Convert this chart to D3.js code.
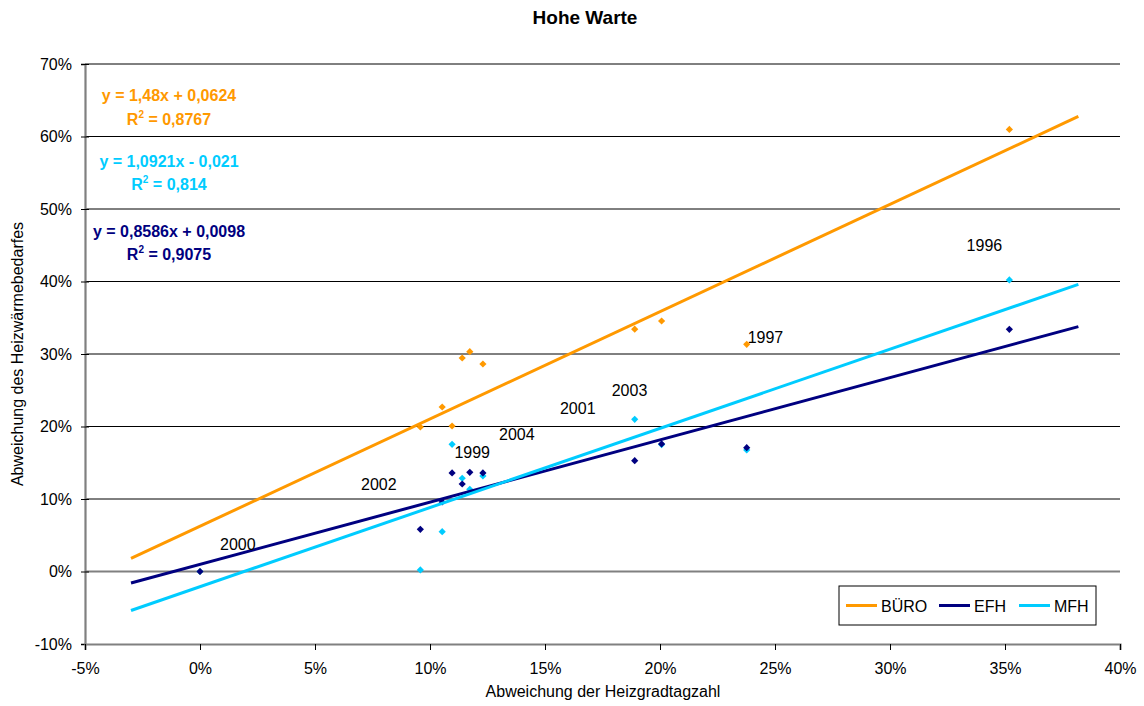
<!DOCTYPE html>
<html>
<head>
<meta charset="utf-8">
<script src="https://cdn.jsdelivr.net/npm/d3@7"></script>
<style>
  html, body { margin: 0; padding: 0; background: #fff; }
  svg { display: block; font-family: Arial, "Liberation Sans", sans-serif; }
</style>
</head>
<body>
<svg id="chart" width="1144" height="706"></svg>
<script>
// Abweichung der Heizgradtagzahl (shared x values for all building types)
const hgtAbweichung = [0, 0.0958, 0.1053, 0.1096, 0.1140, 0.1173, 0.1230, 0.1890, 0.2007, 0.2377, 0.3519];

// Abweichung des Heizwärmebedarfes per building type
const bueroValues = [0, 0.1993, 0.2269, 0.2007, 0.2945, 0.3032, 0.2862, 0.3343, 0.3455, 0.3134, 0.6097];
const efhValues   = [0, 0.0582, 0.0959, 0.1359, 0.1207, 0.1368, 0.1359, 0.1528, 0.1759, 0.1708, 0.3341];
const mfhValues   = [0, 0.0021, 0.0549, 0.1754, 0.1286, 0.1134, 0.1317, 0.2099, 0.1750, 0.1676, 0.4021];

// Linear trend coefficients (slope, intercept) and R²
const seriesNames  = ["BÜRO", "EFH", "MFH"];
const trendSlopes  = [1.48, 0.8586, 1.0921];
const trendOffsets = [0.0624, 0.0098, -0.021];
const trendR2      = ["0,8767", "0,9075", "0,814"];
const trendEquations = ["y = 1,48x + 0,0624", "y = 0,8586x + 0,0098", "y = 1,0921x - 0,021"];

// Year annotations and their anchor in data units (left edge, baseline)
const yearLabels = ["1996", "1997", "1999", "2000", "2001", "2002", "2003", "2004"];
const yearLabelAnchors = [
  [0.3333, 0.4423], [0.2381, 0.3158], [0.1106, 0.1566], [0.0087, 0.0297],
  [0.1565, 0.2174], [0.0700, 0.1125], [0.1790, 0.2426], [0.1300, 0.1815]
];

const xTicks = [-0.05, 0, 0.05, 0.10, 0.15, 0.20, 0.25, 0.30, 0.35, 0.40];
const yTicks = [-0.10, 0, 0.10, 0.20, 0.30, 0.40, 0.50, 0.60, 0.70];

const colors = { "BÜRO": "#FF9900", "EFH": "#000080", "MFH": "#00CCFF" };

const svg = d3.select("#chart");
const plot = { left: 85, right: 1120, top: 64, bottom: 644 };

const x = d3.scaleLinear().domain([-0.05, 0.40]).range([plot.left, plot.right]);
const y = d3.scaleLinear().domain([-0.10, 0.70]).range([plot.bottom, plot.top]);
const pct = d => Math.round(d * 100) + "%";

// Title
svg.append("text")
  .attr("x", 585).attr("y", 24)
  .attr("text-anchor", "middle")
  .attr("font-size", 19).attr("font-weight", "bold")
  .text("Hohe Warte");

// Horizontal gridlines
svg.append("g")
  .selectAll("line")
  .data(yTicks.filter(t => t > -0.10))
  .join("line")
  .attr("x1", plot.left).attr("x2", plot.right)
  .attr("y1", d => y(d)).attr("y2", d => y(d))
  .attr("stroke", d => d === 0 ? "#808080" : "#000")
  .attr("stroke-width", d => d === 0 ? 2 : 1);

// Y axis
const yAxis = svg.append("g")
  .attr("transform", `translate(${plot.left},0)`)
  .call(d3.axisLeft(y).tickValues(yTicks).tickFormat(pct).tickSize(4).tickPadding(9));
yAxis.select(".domain").attr("stroke", "#808080").attr("stroke-width", 2.2);
yAxis.selectAll(".tick line").clone().attr("x2", 4);
yAxis.selectAll(".tick line").attr("stroke", "#000");
yAxis.selectAll(".tick text").attr("font-size", 16).attr("fill", "#000")
  .attr("font-family", "Arial, 'Liberation Sans', sans-serif");

// X axis
const xAxis = svg.append("g")
  .attr("transform", `translate(0,${plot.bottom})`)
  .call(d3.axisBottom(x).tickValues(xTicks).tickFormat(pct).tickSize(6).tickPadding(13));
xAxis.select(".domain").attr("stroke", "#808080").attr("stroke-width", 2.2);
xAxis.selectAll(".tick line").attr("stroke", "#000");
xAxis.selectAll(".tick text").attr("font-size", 16).attr("fill", "#000")
  .attr("font-family", "Arial, 'Liberation Sans', sans-serif");

// Axis titles
svg.append("text")
  .attr("x", 603).attr("y", 697)
  .attr("text-anchor", "middle").attr("font-size", 16)
  .text("Abweichung der Heizgradtagzahl");
svg.append("text")
  .attr("transform", "translate(23,354) rotate(-90)")
  .attr("text-anchor", "middle").attr("font-size", 16)
  .text("Abweichung des Heizwärmebedarfes");

// Markers: rotated squares (diamonds)
const seriesData = {
  "BÜRO": bueroValues.map((v, i) => [hgtAbweichung[i], v]),
  "EFH":  efhValues.map((v, i) => [hgtAbweichung[i], v]),
  "MFH":  mfhValues.map((v, i) => [hgtAbweichung[i], v])
};
const diamond = d3.symbol().type(d3.symbolSquare).size(26);
["BÜRO", "MFH", "EFH"].forEach(name => {
  svg.append("g")
    .selectAll("path")
    .data(seriesData[name])
    .join("path")
    .attr("d", diamond)
    .attr("transform", d => `translate(${x(d[0])},${y(d[1])}) rotate(45)`)
    .attr("fill", colors[name]);
});

// Trend lines, extended 3 percentage points beyond the data range
const xMin = d3.min(hgtAbweichung) - 0.03;
const xMax = d3.max(hgtAbweichung) + 0.03;
seriesNames.forEach((name, i) => {
  const f = v => trendSlopes[i] * v + trendOffsets[i];
  svg.append("line")
    .attr("x1", x(xMin)).attr("y1", y(f(xMin)))
    .attr("x2", x(xMax)).attr("y2", y(f(xMax)))
    .attr("stroke", colors[name])
    .attr("stroke-width", 3);
});

// Trend equations and R²
const eqLayout = { "BÜRO": [101, 125], "MFH": [166.5, 190], "EFH": [236.5, 260] };
seriesNames.forEach((name, i) => {
  const [y1, y2] = eqLayout[name];
  const g = svg.append("g").attr("fill", colors[name])
    .attr("font-size", 16).attr("font-weight", "bold")
    .attr("text-anchor", "middle");
  g.append("text").attr("x", 169).attr("y", y1).text(trendEquations[i]);
  const r = g.append("text").attr("x", 169).attr("y", y2);
  r.append("tspan").text("R");
  r.append("tspan").attr("font-size", 10).attr("dy", -7).text("2");
  r.append("tspan").attr("dy", 7).text(" = " + trendR2[i]);
});

// Year annotations
svg.append("g")
  .selectAll("text")
  .data(yearLabels)
  .join("text")
  .attr("x", (d, i) => x(yearLabelAnchors[i][0]))
  .attr("y", (d, i) => y(yearLabelAnchors[i][1]))
  .attr("font-size", 16)
  .text(d => d);

// Legend
const legend = svg.append("g").attr("transform", "translate(839,586)");
legend.append("rect")
  .attr("width", 257).attr("height", 39)
  .attr("fill", "#fff").attr("stroke", "#000").attr("stroke-width", 1);
const legendX = [7, 100, 180];
seriesNames.forEach((name, i) => {
  legend.append("line")
    .attr("x1", legendX[i]).attr("x2", legendX[i] + 31)
    .attr("y1", 19.5).attr("y2", 19.5)
    .attr("stroke", colors[name]).attr("stroke-width", 3);
  legend.append("text")
    .attr("x", legendX[i] + 35).attr("y", 25.5)
    .attr("font-size", 16)
    .text(name);
});
</script>
</body>
</html>
